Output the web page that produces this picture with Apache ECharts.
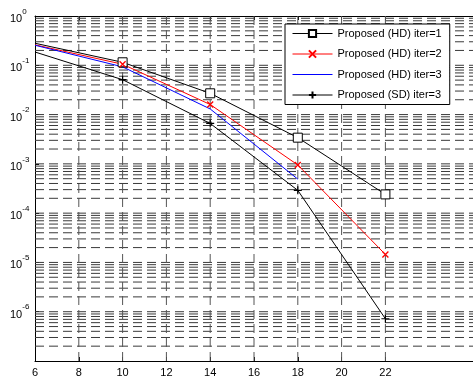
<!DOCTYPE html>
<html>
<head>
<meta charset="utf-8">
<script src="https://cdn.jsdelivr.net/npm/echarts@6/dist/echarts.min.js"></script>
<style>
  html, body { margin: 0; padding: 0; background: #fff; }
  #chart { width: 473px; height: 380px; }
</style>
</head>
<body>
<div id="chart"></div>
<script>
// tick labels
var xTicks = [6, 8, 10, 12, 14, 16, 18, 20, 22];
var xGrid = [8, 10, 12, 14, 16, 18, 20, 22];
var decades = [-7, -6, -5, -4, -3, -2, -1];
var mantissas = [1, 2, 3, 4, 5, 6, 7, 8, 9];

// series values
var names = ['Proposed (HD) iter=1', 'Proposed (HD) iter=2', 'Proposed (HD) iter=3', 'Proposed (SD) iter=3'];
var snrHD1 = [6, 10, 14, 18, 22];
var berHD1 = [0.28, 0.115, 0.027, 0.0034, 0.00024];
var snrHD2 = [6, 10, 14, 18, 22];
var berHD2 = [0.26, 0.105, 0.016, 0.00095, 0.0000145];
var snrHD3 = [6, 10, 14, 18];
var berHD3 = [0.255, 0.093, 0.013, 0.00049];
var snrSD3 = [6, 10, 14, 18, 22];
var berSD3 = [0.186, 0.051, 0.0066, 0.00029, 0.00000072];

// first point sits on the axis edge, no marker drawn there
function pairs(xs, ys) {
    var out = [];
    for (var i = 0; i < xs.length; i++) {
        if (i === 0) out.push({ value: [xs[i], ys[i]], symbol: 'none' });
        else out.push([xs[i], ys[i]]);
    }
    return out;
}

// grid lines (matlab style log grid), split by '-' gaps
var hGrid = [];
decades.forEach(function (d) {
    mantissas.forEach(function (m) {
        if (d === -7 && m === 1) return;
        var v = m * Math.pow(10, d);
        hGrid.push([6, v], [26, v], [26, '-']);
    });
});
var vGrid = [];
xGrid.forEach(function (x) {
    vGrid.push([x, 1e-7], [x, 1], [x, '-']);
});

var chart = echarts.init(document.getElementById('chart'));
var font = 'Liberation Sans, Arial, sans-serif';

var option = {
    animation: false,
    backgroundColor: '#fff',
    textStyle: { fontFamily: font },
    grid: { left: 35, top: 16, width: 440, bottom: 19, containLabel: false },
    legend: {
        data: [
            { name: names[0] },
            { name: names[1] },
            { name: names[2], itemStyle: { opacity: 0 } },
            { name: names[3] }
        ],
        z: 10,
        orient: 'vertical',
        left: 285,
        top: 24,
        width: 182,
        backgroundColor: '#fff',
        borderColor: '#000',
        borderWidth: 1,
        borderRadius: 0,
        padding: [4, 8, 4, 7],
        itemWidth: 40,
        itemHeight: 9,
        itemGap: 9.5,
        lineStyle: { width: 1 },
        textStyle: { fontSize: 11, color: '#000', fontFamily: font }
    },
    xAxis: [{
        type: 'value',
        min: 6,
        max: 26,
        interval: 2,
        axisLine: { show: true, lineStyle: { color: '#000', width: 1 } },
        axisTick: { show: true, inside: true, length: 4, lineStyle: { color: '#000' }, customValues: xTicks },
        axisLabel: { color: '#000', fontSize: 11, fontFamily: font, margin: 6, customValues: xTicks },
        splitLine: { show: false }
    }, {
        type: 'value',
        position: 'top',
        min: 6,
        max: 26,
        interval: 2,
        axisLine: { show: true, onZero: false, lineStyle: { color: '#000', width: 1 } },
        axisTick: { show: true, inside: true, length: 4, lineStyle: { color: '#000' }, customValues: xTicks },
        axisLabel: { show: false },
        splitLine: { show: false }
    }],
    yAxis: {
        type: 'log',
        logBase: 10,
        min: 1e-7,
        max: 1,
        axisLine: { show: true, lineStyle: { color: '#000', width: 1 } },
        axisTick: { show: true, inside: true, length: 4, lineStyle: { color: '#000' } },
        splitLine: { show: false },
        axisLabel: {
            margin: 25,
            align: 'left',
            formatter: function (v) {
                var e = Math.round(Math.log10(v));
                if (e === -7) return '';
                return '{b|10}{s|' + e + '}';
            },
            rich: {
                b: { fontSize: 11, color: '#000', fontFamily: font, verticalAlign: 'bottom' },
                s: { fontSize: 8, color: '#000', fontFamily: font, verticalAlign: 'top', padding: [0, 0, 9, 0] }
            }
        }
    },
    series: [
        {
            name: 'hgrid',
            type: 'line',
            data: hGrid,
            z: 1,
            silent: true,
            symbol: 'none',
            connectNulls: false,
            lineStyle: { color: '#3a3a3a', width: 1, type: [9, 5] }
        },
        {
            name: 'vgrid',
            type: 'line',
            data: vGrid,
            z: 1,
            silent: true,
            symbol: 'none',
            connectNulls: false,
            lineStyle: { color: '#555', width: 1, type: [9, 5] }
        },
        {
            name: names[0],
            type: 'line',
            z: 3,
            data: pairs(snrHD1, berHD1),
            color: '#000',
            lineStyle: { color: '#000', width: 1 },
            symbol: 'rect',
            symbolSize: 9,
            showAllSymbol: true,
            itemStyle: { color: '#fff', borderColor: '#000', borderWidth: 1 }
        },
        {
            name: names[1],
            type: 'line',
            z: 3,
            data: pairs(snrHD2, berHD2),
            color: '#ff0000',
            lineStyle: { color: '#ff0000', width: 1 },
            symbol: 'path://M0,0L10,10M10,0L0,10',
            symbolSize: 6,
            itemStyle: { color: '#ff0000', borderColor: '#ff0000', borderWidth: 1.3 }
        },
        {
            name: names[2],
            type: 'line',
            z: 3,
            data: pairs(snrHD3, berHD3),
            color: '#0000ff',
            lineStyle: { color: '#0000ff', width: 1 },
            symbol: 'none'
        },
        {
            name: names[3],
            type: 'line',
            z: 3,
            data: pairs(snrSD3, berSD3),
            color: '#000',
            lineStyle: { color: '#000', width: 1 },
            symbol: 'path://M5,0L5,10M0,5L10,5',
            symbolSize: 8,
            itemStyle: { color: '#000', borderColor: '#000', borderWidth: 1.2 }
        }
    ]
};

chart.setOption(option);
</script>
</body>
</html>
